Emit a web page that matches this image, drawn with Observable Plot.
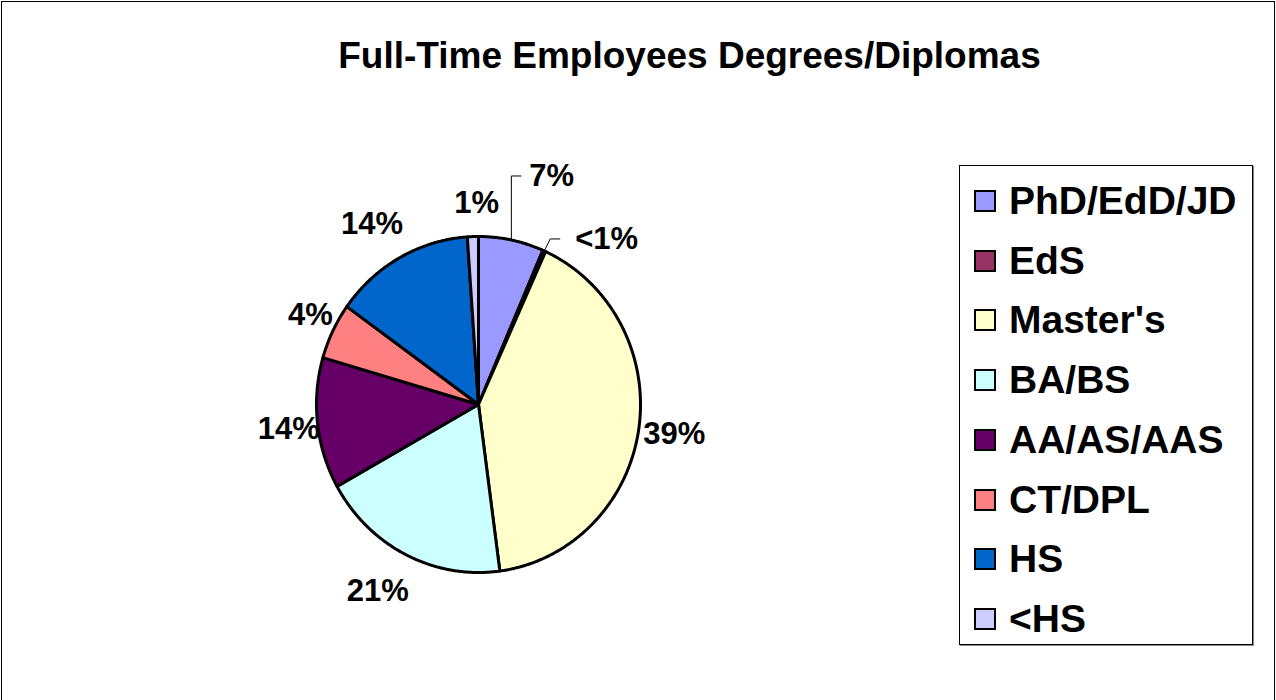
<!DOCTYPE html>
<html>
<head>
<meta charset="utf-8">
<script src="https://cdn.jsdelivr.net/npm/d3@7"></script>
<script src="https://cdn.jsdelivr.net/npm/@observablehq/plot@0.6"></script>
<style>
  html, body { margin: 0; padding: 0; background: #fff; }
  #wrap { position: relative; width: 1276px; height: 700px; overflow: hidden; font-family: "Liberation Sans", Arial, Helvetica, sans-serif; }
  #wrap svg { position: absolute; left: 0; top: 0; display: block; }
  #border { position: absolute; left: 1px; top: 1px; width: 1272px; height: 720px; border: 1px solid #000; pointer-events: none; }
  #legend { position: absolute; left: 959px; top: 165px; width: 292px; height: 478px; border: 1px solid #000; box-shadow: 1px 1px 0 #888; background: #fff; }
  .row { position: absolute; left: 14px; height: 40px; display: flex; align-items: center; white-space: nowrap; }
  .sw { width: 22px; height: 22px; box-sizing: border-box; border: 2px solid #000; flex: none; }
  .lbl { margin-left: 13px; font-size: 39px; font-weight: bold; line-height: 40px; color: #000; }
</style>
</head>
<body>
<div id="wrap"></div>
<script>
// ---- data ----
const title = "Full-Time Employees Degrees/Diplomas";
const categories = ["PhD/EdD/JD", "EdS", "Master's", "BA/BS", "AA/AS/AAS", "CT/DPL", "HS", "<HS"];
const shares = [6.5, 0.3, 41.1, 19.0, 12.6, 5.4, 14.0, 1.1];
const labels = ["7%", "<1%", "39%", "21%", "14%", "4%", "14%", "1%"];
const colors = ["#9999FF", "#993366", "#FFFFCC", "#CCFFFF", "#660066", "#FF8080", "#0066CC", "#CCCCFF"];
const leaderCategories = ["PhD/EdD/JD", "EdS"];

// ---- layout (pixels) ----
const W = 1276, H = 700;
const cx = 478, cy = 404, rx = 162, ry = 168;
const labelGap = 36;
// leader elbow offsets from the slice edge point, in px (right, up)
const leaderLayout = {"PhD/EdD/JD": [0, 64], "EdS": [6, 12]};
// small label nudges in px (right, down), as Excel's best-fit placement does
const labelNudge = {"BA/BS": [-12, 4], "AA/AS/AAS": [7, 2], "CT/DPL": [10, 0], "HS": [-10, -2], "<HS": [5, 2], "EdS": [7, 0]};

const rows = categories.map((c, i) => ({category: c, share: shares[i], label: labels[i]}));
const arcs = d3.pie().sort(null).value(d => d.share)(rows);

// slice polygons in unit-circle data coordinates (0 rad = 12 o'clock, clockwise)
const slicePts = [];
for (const a of arcs) {
  const c = a.data.category;
  slicePts.push({category: c, x: 0, y: 0});
  const n = Math.max(2, Math.ceil((a.endAngle - a.startAngle) / (Math.PI / 360)));
  for (let k = 0; k <= n; ++k) {
    const t = a.startAngle + (a.endAngle - a.startAngle) * k / n;
    slicePts.push({category: c, x: Math.sin(t), y: Math.cos(t)});
  }
}

const plainLabels = [], leaderLabels = [], leaderPts = [];
for (const a of arcs) {
  const mid = (a.startAngle + a.endAngle) / 2;
  const d = a.data;
  const [nx, ny] = labelNudge[d.category] || [0, 0];
  if (leaderCategories.includes(d.category)) {
    const ex = Math.sin(mid), ey = Math.cos(mid);
    const [ox, oy] = leaderLayout[d.category];
    const bx = ex + ox / rx, by = ey + oy / ry;
    const fx = bx + 10 / rx;
    leaderPts.push({k: d.category, x: ex, y: ey}, {k: d.category, x: bx, y: by}, {k: d.category, x: fx, y: by});
    leaderLabels.push({label: d.label, x: fx + (8 + nx) / rx, y: by - ny / ry});
  } else {
    plainLabels.push({
      label: d.label,
      x: (Math.sin(mid) * (rx + labelGap) + nx) / rx,
      y: (Math.cos(mid) * (ry + labelGap) - ny) / ry
    });
  }
}

const font = "'Liberation Sans', Arial, Helvetica, sans-serif";

const chart = Plot.plot({
  width: W,
  height: H,
  margin: 0,
  style: {fontFamily: font, background: "#fff", overflow: "visible"},
  x: {domain: [-1, 1], range: [cx - rx, cx + rx], axis: null},
  y: {domain: [-1, 1], range: [cy + ry, cy - ry], axis: null},
  color: {type: "ordinal", domain: categories, range: colors},
  marks: [
    Plot.line(slicePts, {
      x: "x", y: "y", z: "category", fill: "category",
      stroke: "#000", strokeWidth: 3, curve: "linear-closed", strokeLinejoin: "round"
    }),
    Plot.line(leaderPts, {x: "x", y: "y", z: "k", stroke: "#000", strokeWidth: 1, curve: "linear", strokeLinecap: "butt"}),
    Plot.text(plainLabels, {
      x: "x", y: "y", text: "label", fontSize: 31, fontWeight: "bold", fill: "#000", fontFamily: font
    }),
    Plot.text(leaderLabels, {
      x: "x", y: "y", text: "label", textAnchor: "start", fontSize: 31, fontWeight: "bold", fill: "#000", fontFamily: font
    }),
    Plot.text([title], {
      frameAnchor: "top", text: d => d, dx: 51, dy: 41, lineAnchor: "top",
      fontSize: 37, fontWeight: "bold", fill: "#000", fontFamily: font
    })
  ]
});

const wrap = document.getElementById("wrap");
wrap.appendChild(chart);

const border = document.createElement("div");
border.id = "border";
wrap.appendChild(border);

// legend built from the chart's own color scale
const colorScale = chart.scale("color");
const legend = document.createElement("div");
legend.id = "legend";
colorScale.domain.forEach((c, i) => {
  const row = document.createElement("div");
  row.className = "row";
  row.style.top = (15 + i * 59.7) + "px";
  const sw = document.createElement("div");
  sw.className = "sw";
  sw.style.background = colorScale.range[i];
  const lb = document.createElement("span");
  lb.className = "lbl";
  lb.textContent = c;
  row.appendChild(sw);
  row.appendChild(lb);
  legend.appendChild(row);
});
wrap.appendChild(legend);
</script>
</body>
</html>
